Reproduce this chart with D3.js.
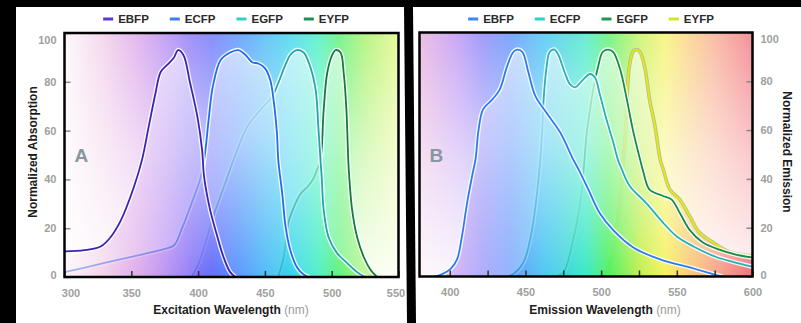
<!DOCTYPE html>
<html>
<head>
<meta charset="utf-8">
<script src="https://cdn.jsdelivr.net/npm/d3@7"></script>
<style>
  html, body { margin: 0; padding: 0; background: #000; }
  svg { display: block; font-family: "Liberation Sans", Arial, Helvetica, sans-serif; }
</style>
</head>
<body>
<svg id="chart" width="801" height="323"></svg>
<script>
// ---- data ----
const proteins = ['EBFP', 'ECFP', 'EGFP', 'EYFP'];

// excitation spectra, [wavelength nm, normalized absorption]
const ebfpExcitation = [[300,10.5],[315,11],[327,12.5],[334,16],[342,23],[352,37],[358,48],[363,61.5],[368,75],[372,84],[377,87],[382,90],[385,93],[389,91],[394,79.5],[399.5,65.6],[403,52],[404.5,41],[409,27.5],[414.5,16.4],[419,8.2],[424,2],[428,0]];
const ecfpExcitation = [[300,2],[320,4.5],[340,7],[360,9.5],[375,11.5],[382,13],[388,20],[395,30],[402,41],[405,50],[408,65],[411,78],[417,89],[424,92],[430,93],[435.5,91],[440.5,88],[445,87.5],[450,85.6],[454,80.7],[456.5,72.5],[459,59],[460,48],[463,34],[465.5,20.5],[469,11],[474,4],[479,1],[483,0]];
const egfpExcitation = [[395,0],[400,5],[405,13],[411.5,25],[420,38],[426.5,48],[436.7,61.5],[446.7,68.5],[455.5,74],[460,79.5],[465.4,87],[469,91],[474,93],[479,92],[484,86],[488,76.6],[490,61.5],[491.6,48],[492.5,41],[494,27.5],[497.6,16.4],[504,9.8],[511.6,5.7],[519,2],[525,0]];
const eyfpExcitation = [[460,0],[464,8],[467.7,22.5],[472,29],[476.6,34],[482,37],[486,40],[489,44],[491.6,48],[494,68.5],[496.6,83.5],[500.4,91],[503,93],[506.6,92],[509,83.5],[511,68.5],[512.4,48],[513,42],[515.3,27.5],[519,16.4],[524,8.2],[529,3],[534,0]];

// emission spectra, [wavelength nm, normalized emission]
const ebfpEmission = [[390,0],[395,1],[400.4,3],[404.8,7],[408,16.4],[411.4,30],[414.7,41],[417,48],[419,60],[422,68.5],[428,72.5],[433,76.6],[437.8,86],[442,92],[444.8,93],[448,92],[452,83.5],[456.5,74],[464,67],[473,59],[481.5,48],[485,44],[491.6,35.6],[499,26],[508,19],[521,12],[539,7],[558.6,3.7],[574,1],[580,0]];
const ecfpEmission = [[438,0],[442,1],[448.6,5.7],[454,18],[457.6,34],[459.8,48],[461,59],[462,72.5],[464,86],[466,92],[469,93],[471.6,91],[476,83.5],[479.5,78.7],[483,77.5],[487,80],[492.7,83],[496,81.5],[499,75],[503.7,64],[508,55],[511,48],[513.6,44],[519,37],[530,30],[541,22],[550,16.4],[561,12.3],[576,8],[587,6],[600,4]];
const egfpEmission = [[470,0],[475,1.6],[481.5,15],[487,34],[489,48],[490.5,59],[492.7,68.5],[494.7,76.6],[498,86],[501,92],[504.6,93],[508,92],[512.5,85],[517,72.5],[521,60],[525.7,48],[528,42.6],[532,35.6],[541,33],[546.6,31.5],[552,26],[558.6,19],[567,14],[578,11],[589,9],[600,7.8]];
const eyfpEmission = [[500,0],[505,4],[509,14],[512,30],[514.6,48],[516,59],[517,72.5],[518.6,86],[521,92],[523,93],[525.7,92],[529,85],[532,72.5],[535.6,61.5],[539,48],[541,44],[545.5,35.6],[552,31.5],[558.6,24.6],[565,18],[574,14],[585,10],[600,8.5]];

// ticks
const valueTicks = [0, 20, 40, 60, 80, 100];
const excitationTicks = [300, 350, 400, 450, 500, 550];
const emissionTicks = [400, 425, 450, 475, 500, 525, 550, 575, 600];
const emissionLabels = [400, 450, 500, 550, 600];

// ---- styles ----
// spectrum colours behind each panel, by wavelength
const excitationSpectrum = [[300,'#fdf5fa'],[330,'#f0c8e6'],[355,'#d89ce8'],[375,'#b080f0'],[395,'#7c66f6'],[410,'#5a62fa'],[430,'#3e84fc'],[450,'#30aef6'],[470,'#26d2ea'],[490,'#30eebc'],[505,'#44f066'],[525,'#9cf058'],[550,'#e2f676']];
const emissionSpectrum = [[380,'#e6a4d8'],[405,'#b486f2'],[422,'#7c76f8'],[440,'#4a84fc'],[462,'#2cbcf2'],[490,'#2ce8c0'],[505,'#48f05a'],[525,'#bcf04a'],[542,'#f6f25a'],[556,'#f8d070'],[575,'#f8a486'],[600,'#f06474']];

const svg = d3.select('#chart');
const defs = svg.append('defs');

svg.append('rect').attr('width', 801).attr('height', 323).attr('fill', '#000');

function verticalWhite(id, top, bottom, stops) {
    const lg = defs.append('linearGradient').attr('id', id)
        .attr('gradientUnits', 'userSpaceOnUse')
        .attr('x1', 0).attr('x2', 0).attr('y1', top).attr('y2', bottom);
    stops.forEach(s => lg.append('stop').attr('offset', s[0])
        .attr('stop-color', '#fff').attr('stop-opacity', s[1]));
}

function drawPanel(p) {
    const g = svg.append('g');
    g.append('polygon').attr('points', p.card.join(' ')).attr('fill', '#fff');

    const x = d3.scaleLinear().domain(p.domain).range([p.left, p.right]);
    const y = d3.scaleLinear().domain([0, 100]).range([p.bottom, p.top]);

    // spectrum gradient in wavelength space
    const gradId = 'spec-' + p.id;
    const grad = defs.append('linearGradient').attr('id', gradId)
        .attr('gradientUnits', 'userSpaceOnUse')
        .attr('x1', p.left).attr('x2', p.right).attr('y1', 0).attr('y2', 0);
    p.spectrum.forEach(s => grad.append('stop')
        .attr('offset', (s[0] - p.domain[0]) / (p.domain[1] - p.domain[0]))
        .attr('stop-color', s[1]));

    // background whitens towards the bottom, curve fills whiten towards the top
    verticalWhite('fade-' + p.id, p.top, p.bottom, [[0, 0.08], [0.5, 0.55], [1, 0.9]]);
    verticalWhite('veil-' + p.id, p.top, p.bottom, [[0, 0.72], [0.45, 0.45], [1, 0]]);

    const clipId = 'clip-' + p.id;
    defs.append('clipPath').attr('id', clipId).append('rect')
        .attr('x', p.left).attr('y', p.top)
        .attr('width', p.right - p.left).attr('height', p.bottom - p.top);

    const plot = g.append('g').attr('clip-path', `url(#${clipId})`);
    plot.append('rect').attr('x', p.left).attr('y', p.top)
        .attr('width', p.right - p.left).attr('height', p.bottom - p.top)
        .attr('fill', `url(#${gradId})`).attr('opacity', 0.78);
    plot.append('rect').attr('x', p.left).attr('y', p.top)
        .attr('width', p.right - p.left).attr('height', p.bottom - p.top)
        .attr('fill', `url(#fade-${p.id})`);

    const area = d3.area().curve(d3.curveCatmullRom.alpha(0.5))
        .x(d => x(d[0])).y0(y(0)).y1(d => y(d[1]));
    const line = d3.line().curve(d3.curveCatmullRom.alpha(0.5))
        .x(d => x(d[0])).y(d => y(d[1]));

    // back to front: EYFP first, EBFP last
    for (let i = p.series.length - 1; i >= 0; i--) {
        const s = p.series[i];
        plot.append('path').datum(s).attr('d', area)
            .attr('fill', `url(#${gradId})`).attr('fill-opacity', 0.57);
        plot.append('path').datum(s).attr('d', area)
            .attr('fill', `url(#veil-${p.id})`);
        plot.append('path').datum(s).attr('d', line)
            .attr('fill', 'none').attr('stroke', p.halo[i]).attr('stroke-width', p.haloWidth[i])
            .attr('stroke-opacity', 0.85);
        plot.append('path').datum(s).attr('d', line)
            .attr('fill', 'none').attr('stroke', p.lineColors[i]).attr('stroke-width', 1.8);
    }

    // axes
    const xAxis = d3.axisBottom(x).tickValues(p.xTicks).tickSizeInner(-6).tickSizeOuter(0).tickPadding(12)
        .tickFormat(d => p.xLabels.includes(d) ? d : '');
    const gx = g.append('g').attr('transform', `translate(0,${p.bottom})`).call(xAxis);
    gx.select('.domain').remove();
    gx.selectAll('.tick line').attr('stroke', '#333').attr('stroke-width', 1.5);
    gx.selectAll('.tick text').attr('fill', '#a0a0a0').attr('font-size', 11).attr('font-weight', 'bold')
        .attr('font-family', null)
        .attr('dx', d => d === p.domain[0] ? p.edgeNudge[0] : d === p.domain[1] ? p.edgeNudge[1] : 0);

    const yAxis = (p.yRight ? d3.axisRight(y) : d3.axisLeft(y)).tickValues(valueTicks)
        .tickSizeInner(-6).tickSizeOuter(0).tickPadding(8);
    const gy = g.append('g').attr('transform', `translate(${p.yRight ? p.right : p.left},0)`).call(yAxis);
    gy.select('.domain').remove();
    gy.selectAll('.tick line').attr('stroke', '#8a8a8a').attr('stroke-width', 1.5);
    gy.selectAll('.tick text').attr('fill', '#a0a0a0').attr('font-size', 11).attr('font-weight', 'bold')
        .attr('font-family', null)
        .attr('dy', d => d === 100 ? '0.95em' : d === 0 ? '0.15em' : '0.32em');

    // frame
    g.append('rect').attr('x', p.left).attr('y', p.top)
        .attr('width', p.right - p.left).attr('height', p.bottom - p.top)
        .attr('fill', 'none').attr('stroke', '#000').attr('stroke-width', 2.5);

    // panel letter
    g.append('text').attr('x', p.left + 10).attr('y', 162)
        .attr('font-size', 19).attr('font-weight', 'bold').attr('fill', '#8797a0').text(p.letter);

    // x title
    const xt = g.append('text').attr('x', p.xTitleX).attr('y', 314).attr('text-anchor', 'middle')
        .attr('font-size', 12).attr('font-weight', 'bold').attr('fill', '#1c1c1c');
    xt.append('tspan').text(p.xTitle + ' ');
    xt.append('tspan').attr('font-weight', 'normal').attr('fill', '#9a9a9a').text('(nm)');

    // y title
    g.append('text')
        .attr('transform', `translate(${p.yTitleX},${152}) rotate(${p.yRight ? 90 : -90})`)
        .attr('text-anchor', 'middle').attr('dy', '0.35em')
        .attr('font-size', 12).attr('font-weight', 'bold').attr('fill', '#1c1c1c').text(p.yTitle);

    // legend
    const lg = g.append('g');
    const items = lg.selectAll('g').data(proteins).join('g');
    items.append('line').attr('x1', 0).attr('x2', 10).attr('y1', 0).attr('y2', 0)
        .attr('stroke', (d, i) => p.legendColors[i]).attr('stroke-width', 3);
    items.append('text').attr('x', 15).attr('dy', '0.36em')
        .attr('font-size', 11.5).attr('font-weight', 'bold').attr('fill', '#2a2a2a').text(d => d);
    let cx = 0;
    items.each(function () {
        const w = 15 + d3.select(this).select('text').node().getComputedTextLength();
        d3.select(this).attr('transform', `translate(${cx},0)`);
        cx += w + 21;
    });
    const total = cx - 21;
    lg.attr('transform', `translate(${p.legendX - total / 2},19)`);
}

drawPanel({
    id: 'a', letter: 'A',
    card: [[16, 7], [404, 7], [407, 323], [16, 323]],
    left: 64.5, right: 398.5, top: 33, bottom: 277,
    domain: [300, 550], xTicks: excitationTicks, xLabels: excitationTicks, edgeNudge: [6, -3],
    spectrum: excitationSpectrum,
    series: [ebfpExcitation, ecfpExcitation, egfpExcitation, eyfpExcitation],
    lineColors: ['#3b22b5', '#1f6cf2', '#22a6ae', '#127a3e'],
    legendColors: ['#5a36dc', '#3a7ff8', '#2cd0cc', '#1a9050'],
    halo: ['#fff', '#fff', '#fff', '#fff'], haloWidth: [4.5, 4.5, 4.5, 4.5],
    xTitle: 'Excitation Wavelength', xTitleX: 231,
    yTitle: 'Normalized Absorption', yTitleX: 33, yRight: false,
    legendX: 226
});

drawPanel({
    id: 'b', letter: 'B',
    card: [[413, 7], [801, 7], [801, 323], [416, 323]],
    left: 419.5, right: 752.5, top: 32.5, bottom: 276.5,
    domain: [380, 600], xTicks: emissionTicks, xLabels: emissionLabels, edgeNudge: [0, 0],
    spectrum: emissionSpectrum,
    series: [ebfpEmission, ecfpEmission, egfpEmission, eyfpEmission],
    lineColors: ['#2a7af2', '#22b2b8', '#138c48', '#e2ee00'],
    legendColors: ['#3a86ff', '#2ccfd0', '#1a9a50', '#cce820'],
    halo: ['#fff', '#fff', '#fff', '#b4b09c'], haloWidth: [4.5, 4.5, 4.5, 3.6],
    xTitle: 'Emission Wavelength', xTitleX: 605,
    yTitle: 'Normalized Emission', yTitleX: 787, yRight: true,
    legendX: 591
});
</script>
</body>
</html>
